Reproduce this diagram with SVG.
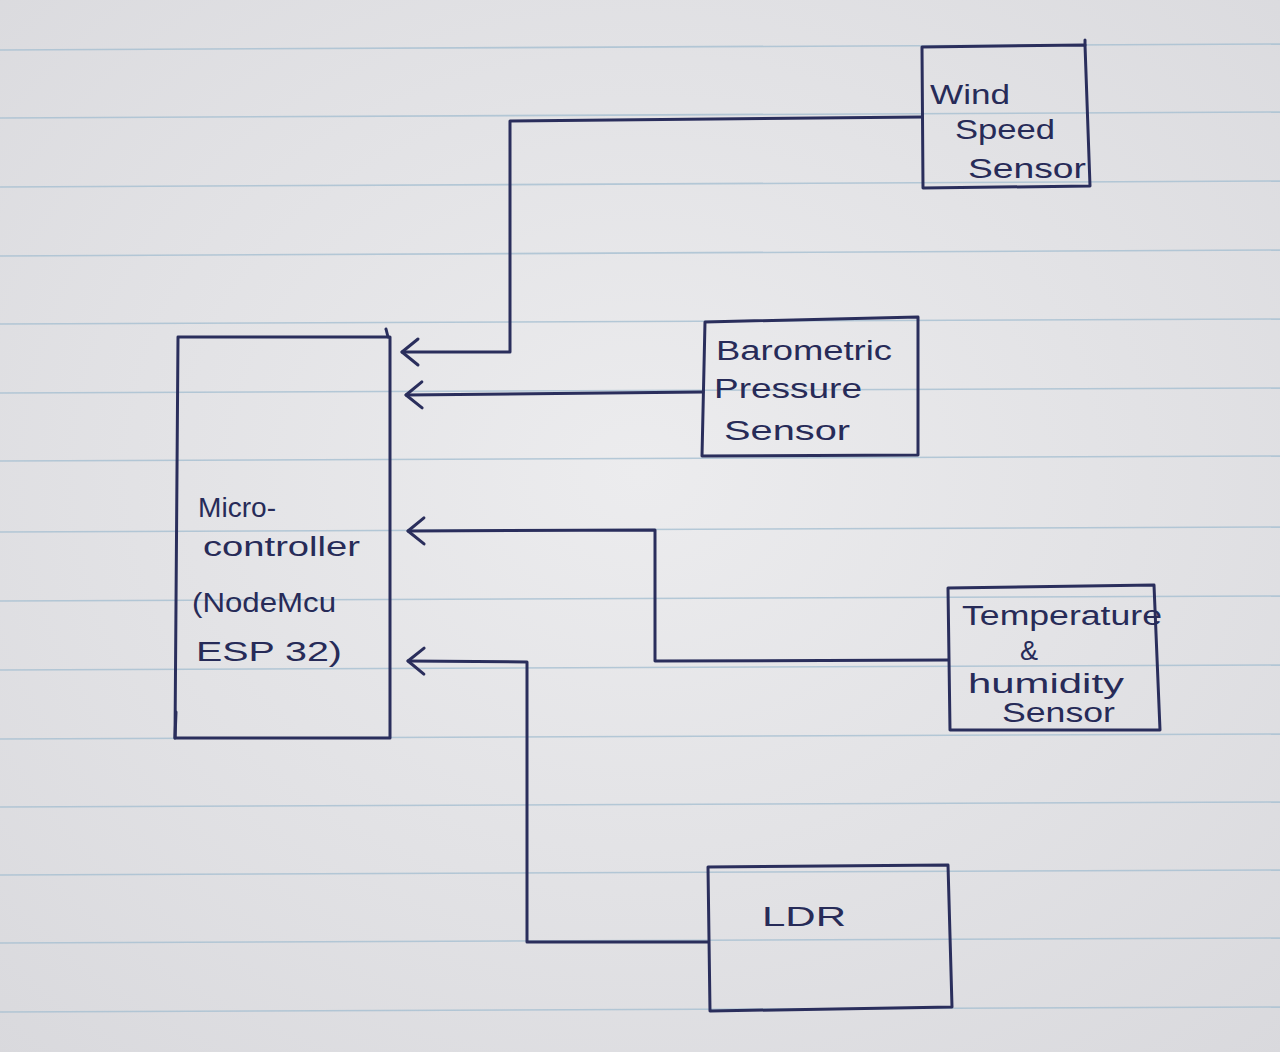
<svg xmlns="http://www.w3.org/2000/svg" width="1280" height="1052" viewBox="0 0 1280 1052">
<defs>
<style>
.ink{fill:none;stroke:#2a2e5c;stroke-width:3;stroke-linecap:round;stroke-linejoin:round}
.rule{stroke:#a7c0d2;stroke-width:1.6;opacity:0.8}
.t{font-family:"Liberation Sans","DejaVu Sans",sans-serif;font-size:27px;fill:#272b58}
</style>
<marker id="arr" viewBox="-20 -16 24 32" markerWidth="24" markerHeight="32" refX="0" refY="0" orient="auto" markerUnits="userSpaceOnUse">
<path d="M-16,-13 L0,0 L-16,13" fill="none" stroke="#2a2e5c" stroke-width="3" stroke-linecap="round" stroke-linejoin="round"/>
</marker>
<radialGradient id="bg" cx="0.5" cy="0.45" r="0.75">
<stop offset="0" stop-color="#ececee"/>
<stop offset="1" stop-color="#d9d9dd"/>
</radialGradient>
</defs>
<rect x="0" y="0" width="1280" height="1052" fill="url(#bg)"/>
<g id="paper-lines">
<line class="rule" x1="0" y1="50" x2="1280" y2="44"/>
<line class="rule" x1="0" y1="118" x2="1280" y2="112"/>
<line class="rule" x1="0" y1="187" x2="1280" y2="181"/>
<line class="rule" x1="0" y1="256" x2="1280" y2="250"/>
<line class="rule" x1="0" y1="324" x2="1280" y2="319"/>
<line class="rule" x1="0" y1="393" x2="1280" y2="388"/>
<line class="rule" x1="0" y1="461" x2="1280" y2="456"/>
<line class="rule" x1="0" y1="532" x2="1280" y2="527"/>
<line class="rule" x1="0" y1="601" x2="1280" y2="596"/>
<line class="rule" x1="0" y1="670" x2="1280" y2="665"/>
<line class="rule" x1="0" y1="739" x2="1280" y2="734"/>
<line class="rule" x1="0" y1="807" x2="1280" y2="802"/>
<line class="rule" x1="0" y1="875" x2="1280" y2="870"/>
<line class="rule" x1="0" y1="943" x2="1280" y2="938"/>
<line class="rule" x1="0" y1="1012" x2="1280" y2="1007"/>
</g>
<g id="connectors">
<path class="ink" d="M922,117 L510,121 L510,352 L402,352" marker-end="url(#arr)"/>
<path class="ink" d="M703,392 L406,395" marker-end="url(#arr)"/>
<path class="ink" d="M948,660 L655,661 L655,530 L408,531" marker-end="url(#arr)"/>
<path class="ink" d="M708,942 L527,942 L527,662 L408,661" marker-end="url(#arr)"/>
</g>
<g id="wind-speed-sensor">
<path class="ink" d="M922,47 L1085,45 L1090,186 L923,188 Z"/>
<path class="ink" d="M1085,45 L1085,40"/>
<text class="t" x="930" y="104" textLength="80" lengthAdjust="spacingAndGlyphs">Wind</text>
<text class="t" x="955" y="139" textLength="100" lengthAdjust="spacingAndGlyphs">Speed</text>
<text class="t" x="968" y="178" textLength="118" lengthAdjust="spacingAndGlyphs">Sensor</text>
</g>
<g id="barometric-pressure-sensor">
<path class="ink" d="M705,322 L918,317 L918,455 L702,456 Z"/>
<text class="t" x="716" y="360" textLength="176" lengthAdjust="spacingAndGlyphs">Barometric</text>
<text class="t" x="714" y="398" textLength="148" lengthAdjust="spacingAndGlyphs">Pressure</text>
<text class="t" x="724" y="440" textLength="126" lengthAdjust="spacingAndGlyphs">Sensor</text>
</g>
<g id="microcontroller">
<path class="ink" d="M178,337 L390,337 L390,738 L175,738 L178,337"/>
<path class="ink" d="M175,738 L176,712"/>
<path class="ink" d="M388,337 L386,329"/>
<text class="t" x="198" y="517" textLength="78" lengthAdjust="spacingAndGlyphs">Micro-</text>
<text class="t" x="203" y="556" textLength="157" lengthAdjust="spacingAndGlyphs">controller</text>
<text class="t" x="192" y="612" textLength="144" lengthAdjust="spacingAndGlyphs">(NodeMcu</text>
<text class="t" x="196" y="661" textLength="146" lengthAdjust="spacingAndGlyphs">ESP 32)</text>
</g>
<g id="temperature-humidity-sensor">
<path class="ink" d="M948,588 L1154,585 L1160,730 L950,730 Z"/>
<text class="t" x="962" y="625" textLength="200" lengthAdjust="spacingAndGlyphs">Temperature</text>
<text class="t" x="1020" y="660">&amp;</text>
<text class="t" x="968" y="693" textLength="156" lengthAdjust="spacingAndGlyphs">humidity</text>
<text class="t" x="1002" y="722" textLength="113" lengthAdjust="spacingAndGlyphs">Sensor</text>
</g>
<g id="ldr">
<path class="ink" d="M708,867 L948,865 L952,1007 L710,1011 Z"/>
<text class="t" x="762" y="926" textLength="84" lengthAdjust="spacingAndGlyphs">LDR</text>
</g>
</svg>
